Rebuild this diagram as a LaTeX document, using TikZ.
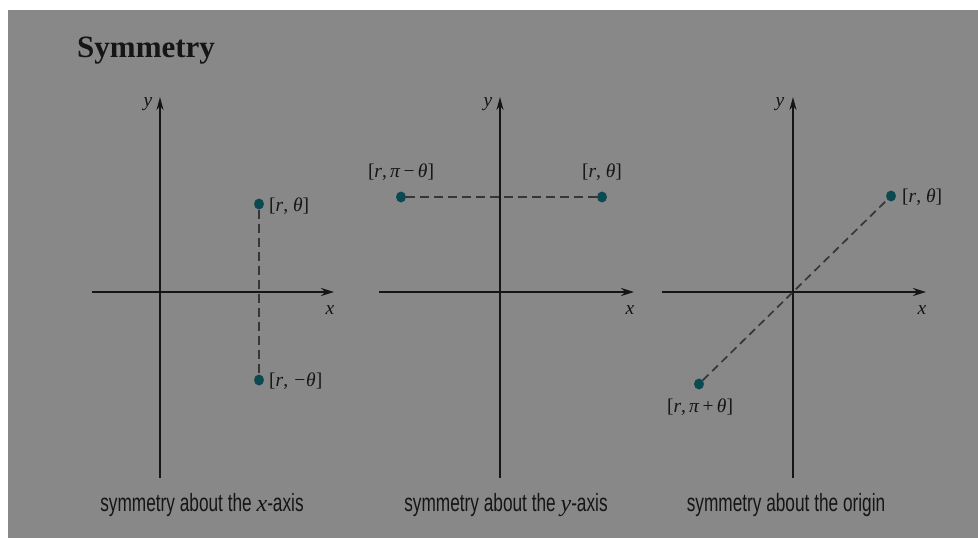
\documentclass[tikz,border=0pt]{standalone}
\usepackage{fontspec}
\setmainfont{Liberation Serif}
\newfontfamily\capfont[FakeStretch=0.69]{Liberation Sans}
\usetikzlibrary{arrows.meta}
\definecolor{bg}{HTML}{888888}
\definecolor{dotc}{HTML}{0C4A52}
\definecolor{ink}{HTML}{151515}
\definecolor{dashc}{HTML}{363636}
\tikzset{
 axis/.style={draw=ink, line width=2.4pt, -{Stealth[length=13pt,width=8pt]}},
 vaxis/.style={draw=ink, line width=1.7pt, -{Stealth[length=13pt,width=7pt]}},
 pt/.style={ellipse, fill=dotc, inner sep=0pt, minimum width=10pt, minimum height=11pt},
 lbl/.style={font=\fontsize{19.5}{19.5}\selectfont, text=ink, inner sep=0pt},
 ilbl/.style={font=\itshape\fontsize{19.5}{19.5}\selectfont, text=ink, inner sep=0pt},
 dashln/.style={draw=dashc, line width=1.7pt, dash pattern=on 9pt off 5pt},
 captxt/.style={font=\capfont\fontsize{25}{25}\selectfont, text=ink, inner sep=0pt},
}
\usetikzlibrary{shapes.geometric}
\begin{document}
\begin{tikzpicture}[x=1pt,y=-1pt]
\useasboundingbox (0,0) rectangle (978,538);
\fill[white] (0,0) rectangle (978,538);
\fill[bg] (8,10) rectangle (978,538);
\node[font=\bfseries\fontsize{31}{31}\selectfont, anchor=base west, text=ink, inner sep=0pt] (title) at (77,57) {Symmetry};

% panel 1
\coordinate (xl1) at (92,292); \coordinate (xr1) at (334,292);
\coordinate (yb1) at (160,478); \coordinate (yt1) at (160,97);
\draw[axis] (xl1) -- (xr1);
\draw[vaxis] (yb1) -- (yt1);
\node[ilbl] (x1) at (330,310) {x};
\node[ilbl] (y1) at (148,104) {y};
\node[pt] (p1) at (259,204) {};
\node[pt] (q1) at (259,380) {};
\draw[dashln] (p1) -- (q1);
\node[lbl, anchor=west] (lp1) at (269,206) {[\textit{r}, \textit{θ}]};
\node[lbl, anchor=west] (lq1) at (269,381) {[\textit{r}, \textit{−θ}]};
\node[captxt] (c1) at (202,505) {symmetry about the {\rmfamily\itshape\fontsize{24}{24}\selectfont x}-axis};

% panel 2
\coordinate (xl2) at (379,292); \coordinate (xr2) at (634,292);
\coordinate (yb2) at (500,478); \coordinate (yt2) at (500,97);
\draw[axis] (xl2) -- (xr2);
\draw[vaxis] (yb2) -- (yt2);
\node[ilbl] (x2) at (630,310) {x};
\node[ilbl] (y2) at (488,104) {y};
\node[pt] (p2) at (602,197) {};
\node[pt] (q2) at (401,197) {};
\draw[dashln] (q2) -- (p2);
\node[lbl] (lp2) at (602,172) {[\textit{r}, \textit{θ}]};
\node[lbl] (lq2) at (401,172) {[\textit{r},\,\textit{π}\,−\,\textit{θ}]};
\node[captxt] (c2) at (506,505) {symmetry about the {\rmfamily\itshape\fontsize{24}{24}\selectfont y}-axis};

% panel 3
\coordinate (xl3) at (662,292); \coordinate (xr3) at (926,292);
\coordinate (yb3) at (793,478); \coordinate (yt3) at (793,97);
\draw[axis] (xl3) -- (xr3);
\draw[vaxis] (yb3) -- (yt3);
\node[ilbl] (x3) at (922,310) {x};
\node[ilbl] (y3) at (780,104) {y};
\node[pt] (p3) at (891,196) {};
\node[pt] (q3) at (699,384) {};
\draw[dashln, dash pattern=on 8pt off 5pt] (q3) -- (p3);
\node[lbl, anchor=west] (lp3) at (902,197) {[\textit{r}, \textit{θ}]};
\node[lbl] (lq3) at (700,407) {[\textit{r},\,\textit{π}\,+\,\textit{θ}]};
\node[captxt] (c3) at (786,505) {symmetry about the origin};
\end{tikzpicture}
\end{document}
